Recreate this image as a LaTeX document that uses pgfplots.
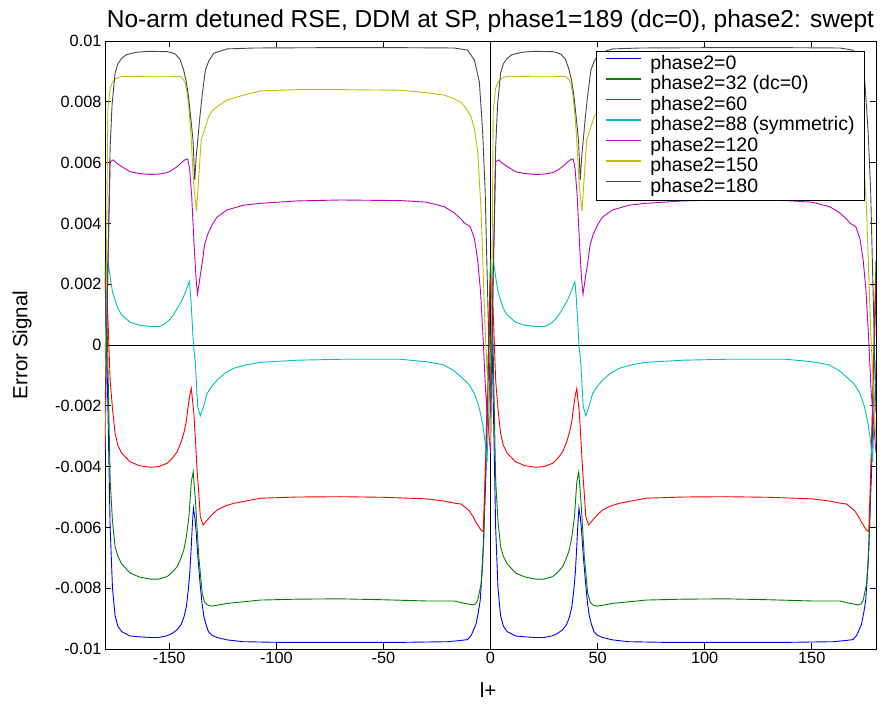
\documentclass[border=0pt]{standalone}
\usepackage{pgfplots}
\pgfplotsset{compat=1.18}
\usepackage{pgfplotstable}
\usepackage{fontspec}
\setmainfont{Liberation Sans}

\definecolor{cblue}{RGB}{0,0,255}
\definecolor{cgreen}{RGB}{0,128,0}
\definecolor{cred}{RGB}{255,0,0}
\definecolor{ccyan}{RGB}{0,191,191}
\definecolor{cmag}{RGB}{191,0,191}
\definecolor{cyel}{RGB}{191,191,0}
\definecolor{cblk}{RGB}{70,70,70}

% values in units of 1e-3; u = phase offset within one 180-degree period
\pgfplotstableread{
u v
0 2.4
1.2 -1.5
2.4 -6.0
3.5 -8.0
4.7 -8.9
6 -9.25
7.8 -9.43
11.7 -9.57
16 -9.6
21 -9.62
25 -9.62
28.8 -9.57
31 -9.5
33.5 -9.38
35.5 -9.2
36.9 -8.94
38 -8.6
38.9 -8.06
39.6 -7.5
40.2 -6.74
40.8 -5.9
41.3 -5.37
42 -5.7
42.5 -6.09
43.4 -7.0
44.4 -7.84
45.3 -8.5
46.2 -8.94
47.2 -9.2
48.3 -9.43
50 -9.55
52.2 -9.62
57 -9.7
64.5 -9.76
80 -9.78
100 -9.78
120 -9.78
140 -9.78
160 -9.76
166 -9.72
169.3 -9.69
171 -9.55
173.2 -9.19
174.3 -8.8
175.2 -8.4
176.3 -7.2
177.9 -4.2
180 2.4
}\tblue

\pgfplotstableread{
u v
0 2.8
1.2 0.0
2.4 -4.44
3.5 -5.8
4.7 -6.63
6 -6.95
7.8 -7.2
11.7 -7.5
16 -7.63
21 -7.7
25 -7.7
29 -7.62
31.5 -7.47
33.7 -7.29
35.5 -7.0
36.8 -6.74
38 -6.3
39.2 -5.65
40.3 -4.5
41.2 -4.17
42.3 -5.21
43.8 -6.96
45.4 -8.17
46.5 -8.45
47.7 -8.55
50 -8.59
57 -8.5
72.6 -8.39
90 -8.36
110 -8.35
130 -8.38
150 -8.42
163 -8.42
168 -8.5
171.7 -8.55
173 -8.52
174 -8.4
175.6 -7.86
176.8 -6.55
178 -3.0
180 2.8
}\tgreen

\pgfplotstableread{
u v
0 2.2
1.2 1.2
2.4 -1.15
3.5 -2.1
4.7 -2.9
6 -3.3
7.8 -3.56
11.7 -3.84
16 -3.97
21 -4.02
25 -4.0
29 -3.89
31.5 -3.72
33.7 -3.51
35.5 -3.2
36.8 -2.9
38 -2.5
38.8 -2.03
39.6 -1.65
40.3 -1.43
41.5 -2.25
42.3 -3.2
43 -4.11
43.8 -4.9
44.5 -5.65
45.8 -5.92
47.7 -5.76
50 -5.58
52.3 -5.43
56 -5.3
60 -5.21
72.6 -5.04
90 -5.0
110 -4.99
130 -5.01
150 -5.06
158 -5.13
163 -5.2
166.2 -5.23
168 -5.33
170 -5.45
171.7 -5.63
173 -5.8
174.3 -5.95
175.6 -6.09
176.6 -6.14
177.9 -3.5
180 2.2
}\tred

\pgfplotstableread{
u v
0 -0.5
1.3 2.8
2.5 2.2
3.5 1.75
4.7 1.48
6 1.2
7.8 0.99
11.7 0.75
16 0.65
21 0.61
25.6 0.61
28 0.7
30.3 0.84
32.3 1.03
34.2 1.26
36 1.48
37.3 1.7
38.5 1.92
39.4 2.08
40 1.6
40.5 1.04
41.3 0.0
42.2 -0.6
43.3 -2.03
44.5 -2.33
46 -2.03
47.7 -1.59
50 -1.35
52.4 -1.15
56 -0.93
60 -0.77
66 -0.65
72.6 -0.57
90 -0.5
110 -0.47
138 -0.47
150 -0.55
158 -0.65
163 -0.85
167 -1.1
170 -1.3
172.5 -1.6
174.5 -2.0
176.3 -2.58
177.5 -3.2
178.4 -3.84
180 -0.5
}\tcyan

\pgfplotstableread{
u v
0 -3.55
1.2 2.0
2.4 6.03
3.9 6.09
5.5 5.98
7.8 5.87
11.7 5.7
16 5.64
21 5.61
25 5.62
29 5.67
31.5 5.76
33.7 5.87
35.7 6.0
37.5 6.1
38.6 6.12
39.5 5.8
40.5 4.88
41.6 3.3
42.5 2.2
43.2 1.67
44.4 2.25
45.5 2.75
46.5 3.3
48 3.65
50 3.95
52.2 4.2
56.9 4.44
64.7 4.6
72.6 4.66
90 4.74
110 4.77
138 4.75
150 4.7
158.4 4.55
163 4.35
166.2 4.15
168 4.0
170.5 3.9
172.5 3.5
174 2.8
175.3 1.8
176.5 0.3
177.7 -1.5
180 -3.55
}\tmag

\pgfplotstableread{
u v
0 -3.2
1.3 7.73
2.4 8.44
3.5 8.65
4.7 8.74
6 8.8
7.8 8.83
20 8.84
30 8.84
35.2 8.83
36.5 8.74
37.5 8.61
38.3 8.3
39.1 7.84
40.2 6.85
41.4 5.32
42.7 4.4
43.7 5.43
44.9 6.74
46.4 7.07
48.4 7.51
50 7.7
52.3 7.84
57 8.06
64.8 8.22
72.6 8.36
90 8.4
110 8.4
138 8.38
150 8.3
158.4 8.22
163 8.1
166.2 7.98
168.5 7.8
170.9 7.52
172.5 7.1
174 6.4
175.6 4.42
177.5 0.5
180 -3.2
}\tyel

\pgfplotstableread{
u v
0 -2.24
1.2 2.0
2.4 6.5
3.3 7.9
4.7 8.94
6 9.25
7.8 9.43
10 9.55
14.8 9.63
20 9.66
28.9 9.65
31 9.62
32.8 9.57
35 9.4
36.7 9.05
38 8.65
39 8.17
40 7.5
41.1 6.74
41.9 5.43
42.6 6.2
43.3 6.74
44.3 7.5
45.3 8.17
46.9 9.05
48.5 9.35
50.8 9.6
57 9.74
70 9.77
100 9.78
140 9.78
163 9.77
169.3 9.7
172.5 9.37
174.8 8.65
176.3 7.06
177.5 5.08
180 -2.24
}\tblk

\begin{document}
\begin{tikzpicture}
\begin{axis}[
  name=ax,
  scale only axis,
  width=771pt, height=608pt,
  xmin=-180, xmax=180, ymin=-10, ymax=10,
  xtick={-150,-100,-50,0,50,100,150},
  xticklabels={-150,-100,-50,0,50,100,150},
  ytick={-10,-8,-6,-4,-2,0,2,4,6,8,10},
  yticklabels={-0.01,-0.008,-0.006,-0.004,-0.002,0,0.002,0.004,0.006,0.008,0.01},
  tick align=inside,
  major tick length=6pt,
  axis line style={line width=0.9pt},
  every tick/.style={black, line width=0.8pt},
  tick label style={font=\fontsize{16.3}{18}\selectfont},
  title={No-arm detuned RSE, DDM at SP, phase1=189 (dc=0), phase2: swept},
  every axis title/.style={at={(axis description cs:0.5,1)}, anchor=base, yshift=13pt, font=\fontsize{24.5}{26}\selectfont},
  xlabel={l+},
  ylabel={Error Signal},
  every axis x label/.style={at={(axis description cs:0.497,-0.0674)}, anchor=center, font=\fontsize{20.5}{22}\selectfont},
  every axis y label/.style={at={(axis description cs:-0.1077,0.5)}, rotate=90, anchor=center, font=\fontsize{20.5}{22}\selectfont},
  legend style={at={(1,1)}, anchor=north east, xshift=-11pt, yshift=-10pt,
    draw=black, line width=0.9pt, fill=white,
    font=\fontsize{19.5}{20}\selectfont,
    inner xsep=8pt, inner ysep=3pt, column sep=7pt, row sep=0pt,
    nodes={inner xsep=2pt, inner ysep=0pt, text height=15pt, text depth=5.5pt}},
  legend cell align=left,
  legend image code/.code={\draw[#1, line width=1.5pt] (0pt,6pt) -- (35pt,6pt);},
  every axis plot/.append style={line width=0.9pt},
]
\draw[black, line width=0.7pt] (axis cs:-180,0) -- (axis cs:180,0);
\draw[black, line width=0.7pt] (axis cs:0,-10) -- (axis cs:0,10);

\addplot[color=cblue] table[x expr=\thisrow{u}-180, y=v] {\tblue};
\addlegendentry{phase2=0}
\addplot[color=cblue, forget plot] table[x=u, y=v] {\tblue};

\addplot[color=cgreen] table[x expr=\thisrow{u}-180, y=v] {\tgreen};
\addlegendentry{phase2=32 (dc=0)}
\addplot[color=cgreen, forget plot] table[x=u, y=v] {\tgreen};

\addplot[color=cred] table[x expr=\thisrow{u}-180, y=v] {\tred};
\addlegendentry{phase2=60}
\addplot[color=cred, forget plot] table[x=u, y=v] {\tred};

\addplot[color=ccyan] table[x expr=\thisrow{u}-180, y=v] {\tcyan};
\addlegendentry{phase2=88 (symmetric)}
\addplot[color=ccyan, forget plot] table[x=u, y=v] {\tcyan};

\addplot[color=cmag] table[x expr=\thisrow{u}-180, y=v] {\tmag};
\addlegendentry{phase2=120}
\addplot[color=cmag, forget plot] table[x=u, y=v] {\tmag};

\addplot[color=cyel] table[x expr=\thisrow{u}-180, y=v] {\tyel};
\addlegendentry{phase2=150}
\addplot[color=cyel, forget plot] table[x=u, y=v] {\tyel};

\addplot[color=cblk] table[x expr=\thisrow{u}-180, y=v] {\tblk};
\addlegendentry{phase2=180}
\addplot[color=cblk, forget plot] table[x=u, y=v] {\tblk};
\end{axis}
\pgfresetboundingbox
\path ([shift={(-105pt,-58pt)}]ax.south west) rectangle ([shift={(10pt,41pt)}]ax.north east);
\end{tikzpicture}
\end{document}
